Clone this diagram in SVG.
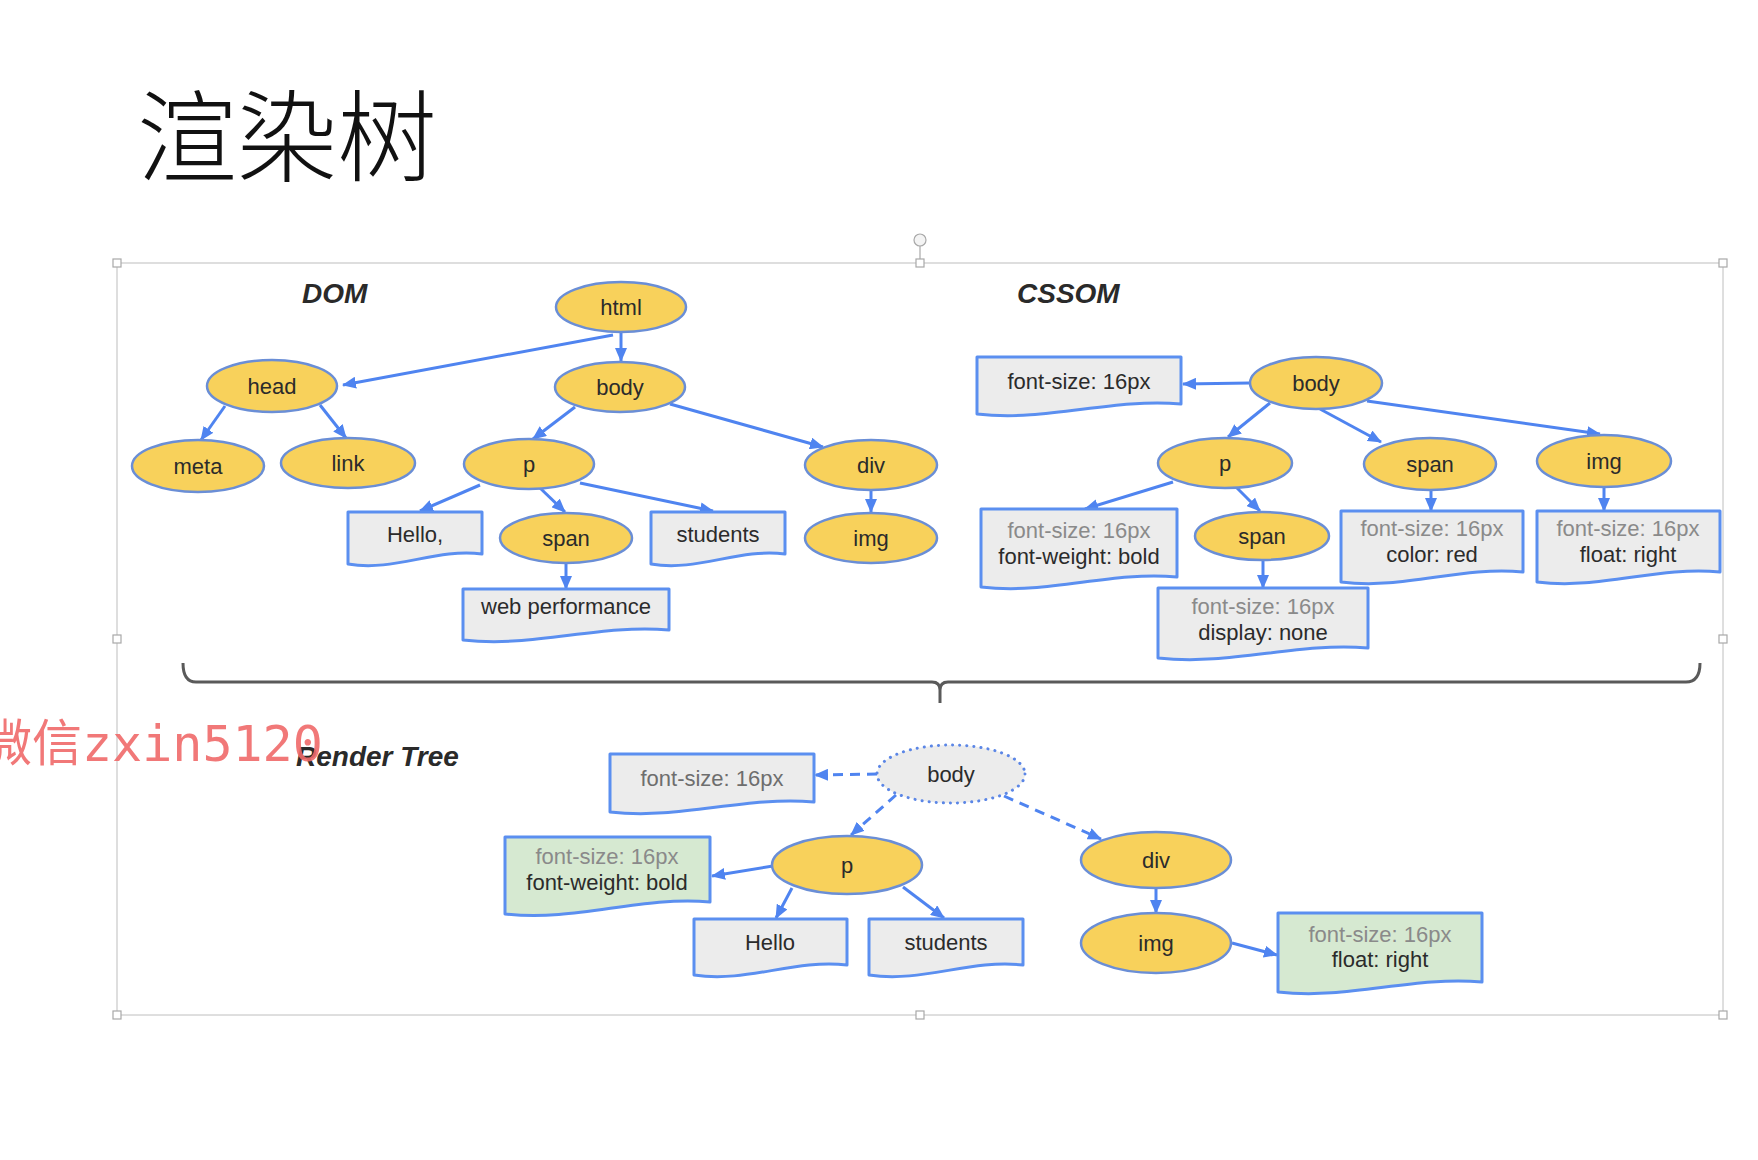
<svg xmlns="http://www.w3.org/2000/svg" width="1758" height="1160" viewBox="0 0 1758 1160">
<style>
.bg{fill:#ffffff}
.sel{fill:none;stroke:#d4d4d4;stroke-width:1.5}
.hd{fill:#ffffff;stroke:#a8a8a8;stroke-width:1.2}
.el{fill:#f8d15b;stroke:#6a8ed6;stroke-width:2.5}
.dot{fill:#ececec;stroke:#5b86e6;stroke-width:3;stroke-dasharray:0.1 7;stroke-linecap:round}
.box{fill:#ececec;stroke:#5b8ff0;stroke-width:3;stroke-linejoin:round}
.gbox{fill:#d6e9d1;stroke:#5b8ff0;stroke-width:3;stroke-linejoin:round}
.t{font-family:"Liberation Sans",Arial,sans-serif;font-size:22px;fill:#2b2b2b;text-anchor:middle}
.lt{font-family:"Liberation Sans",Arial,sans-serif;font-size:22px;fill:#8a8a8a;text-anchor:middle}
.mt{font-family:"Liberation Sans",Arial,sans-serif;font-size:22px;fill:#6e6e6e;text-anchor:middle}
.hdr{font-family:"Liberation Sans",Arial,sans-serif;font-weight:bold;font-style:italic;fill:#2a2a2a}
.c{fill:none;stroke:#4f84f0;stroke-width:3;marker-end:url(#ah)}
.cd{fill:none;stroke:#4f84f0;stroke-width:3;stroke-dasharray:10 7;marker-end:url(#ah)}
</style>
<defs>
<marker id="ah" viewBox="0 0 14 12" refX="13" refY="6" markerWidth="14" markerHeight="12" markerUnits="userSpaceOnUse" orient="auto">
<path d="M0,0 L14,6 L0,12 Z" fill="#4f84f0"/>
</marker>
</defs>
<rect class="bg" x="0" y="0" width="1758" height="1160"/>

<g id="title">
<text x="137" y="174" font-family="'Noto Sans CJK SC',sans-serif" font-size="100" font-weight="300" fill="#111">渲染树</text>
</g>

<g id="selection">
<rect class="sel" x="117" y="263" width="1606" height="752"/>
<line x1="920" y1="246" x2="920" y2="259" stroke="#a8a8a8" stroke-width="1.2"/>
<circle cx="920" cy="240" r="6" fill="#f4f4f4" stroke="#a8a8a8" stroke-width="1.2"/>
<rect class="hd" x="113" y="259" width="8" height="8"/>
<rect class="hd" x="916" y="259" width="8" height="8"/>
<rect class="hd" x="1719" y="259" width="8" height="8"/>
<rect class="hd" x="113" y="635" width="8" height="8"/>
<rect class="hd" x="1719" y="635" width="8" height="8"/>
<rect class="hd" x="113" y="1011" width="8" height="8"/>
<rect class="hd" x="916" y="1011" width="8" height="8"/>
<rect class="hd" x="1719" y="1011" width="8" height="8"/>
</g>

<g id="headers">
<text class="hdr" x="302" y="303" font-size="28">DOM</text>
<text class="hdr" x="1017" y="303" font-size="28">CSSOM</text>
<text class="hdr" x="296" y="766" font-size="28">Render Tree</text>
</g>

<g id="brace">
<path d="M183,663 Q183,682 196,682 H932 Q940,682 940,690 V703 M940,690 Q940,682 948,682 H1686 Q1700,682 1700,663" fill="none" stroke="#5a5a5a" stroke-width="3"/>
</g>

<g id="connectors">
<path class="c" d="M613,335 L343,385"/>
<path class="c" d="M621,333 L621,361"/>
<path class="c" d="M225,406 L201,440"/>
<path class="c" d="M320,405 L346,438"/>
<path class="c" d="M575,407 L533,439"/>
<path class="c" d="M670,404 L823,447"/>
<path class="c" d="M480,485 L420,511"/>
<path class="c" d="M540,488 L565,512"/>
<path class="c" d="M580,483 L713,511"/>
<path class="c" d="M871,490 L871,512"/>
<path class="c" d="M566,563 L566,589"/>
<path class="c" d="M1250,383 L1183,384"/>
<path class="c" d="M1270,403 L1228,437"/>
<path class="c" d="M1320,409 L1381,442"/>
<path class="c" d="M1367,401 L1600,434"/>
<path class="c" d="M1173,482 L1085,509"/>
<path class="c" d="M1237,488 L1260,511"/>
<path class="c" d="M1263,560 L1263,588"/>
<path class="c" d="M1431,490 L1431,511"/>
<path class="c" d="M1604,487 L1604,511"/>
<path class="cd" d="M877,774 L815,775"/>
<path class="cd" d="M896,795 L851,835"/>
<path class="cd" d="M1004,796 L1101,839"/>
<path class="c" d="M773,866 L712,876"/>
<path class="c" d="M792,888 L776,918"/>
<path class="c" d="M903,887 L944,918"/>
<path class="c" d="M1156,889 L1156,913"/>
<path class="c" d="M1232,943 L1277,955"/>
</g>

<g id="dom-html"><ellipse class="el" cx="621" cy="307" rx="65" ry="25"/><text class="t" x="621" y="315">html</text></g>
<g id="dom-body"><ellipse class="el" cx="620" cy="387" rx="65" ry="25"/><text class="t" x="620" y="395">body</text></g>
<g id="dom-head"><ellipse class="el" cx="272" cy="386" rx="65" ry="26"/><text class="t" x="272" y="394">head</text></g>
<g id="dom-meta"><ellipse class="el" cx="198" cy="466" rx="66" ry="26"/><text class="t" x="198" y="474">meta</text></g>
<g id="dom-link"><ellipse class="el" cx="348" cy="463" rx="67" ry="25"/><text class="t" x="348" y="471">link</text></g>
<g id="dom-p"><ellipse class="el" cx="529" cy="464" rx="65" ry="25"/><text class="t" x="529" y="472">p</text></g>
<g id="dom-div"><ellipse class="el" cx="871" cy="465" rx="66" ry="25"/><text class="t" x="871" y="473">div</text></g>
<g id="dom-img"><ellipse class="el" cx="871" cy="538" rx="66" ry="25"/><text class="t" x="871" y="546">img</text></g>
<g id="dom-span"><ellipse class="el" cx="566" cy="538" rx="66" ry="25"/><text class="t" x="566" y="546">span</text></g>
<g id="dom-hello"><path class="box" d="M348,512 H482 V554 C435,548 395,572 348,564 Z"/><text class="t" x="415" y="542">Hello,</text></g>
<g id="dom-students"><path class="box" d="M651,512 H785 V554 C738,548 698,572 651,564 Z"/><text class="t" x="718" y="542">students</text></g>
<g id="dom-webperf"><path class="box" d="M463,589 H669 V630 C597,624 535,648 463,640 Z"/><text class="t" x="566" y="614">web performance</text></g>

<g id="css-body"><ellipse class="el" cx="1316" cy="383" rx="66" ry="26"/><text class="t" x="1316" y="391">body</text></g>
<g id="css-p"><ellipse class="el" cx="1225" cy="463" rx="67" ry="25"/><text class="t" x="1225" y="471">p</text></g>
<g id="css-span"><ellipse class="el" cx="1430" cy="464" rx="66" ry="26"/><text class="t" x="1430" y="472">span</text></g>
<g id="css-img"><ellipse class="el" cx="1604" cy="461" rx="67" ry="26"/><text class="t" x="1604" y="469">img</text></g>
<g id="css-pspan"><ellipse class="el" cx="1262" cy="536" rx="67" ry="24"/><text class="t" x="1262" y="544">span</text></g>
<g id="css-body-style"><path class="box" d="M977,357 H1181 V404 C1110,398 1048,422 977,414 Z"/><text class="t" x="1079" y="389" fill="#444">font-size: 16px</text></g>
<g id="css-p-style"><path class="box" d="M981,509 H1177 V577 C1108,571 1050,595 981,587 Z"/><text class="lt" x="1079" y="538">font-size: 16px</text><text class="t" x="1079" y="564">font-weight: bold</text></g>
<g id="css-pspan-style"><path class="box" d="M1158,588 H1368 V648 C1295,642 1232,666 1158,658 Z"/><text class="lt" x="1263" y="614">font-size: 16px</text><text class="t" x="1263" y="640">display: none</text></g>
<g id="css-span-style"><path class="box" d="M1341,511 H1523 V572 C1459,566 1405,590 1341,582 Z"/><text class="lt" x="1432" y="536">font-size: 16px</text><text class="t" x="1432" y="562">color: red</text></g>
<g id="css-img-style"><path class="box" d="M1537,511 H1720 V572 C1656,566 1601,590 1537,582 Z"/><text class="lt" x="1628" y="536">font-size: 16px</text><text class="t" x="1628" y="562">float: right</text></g>

<g id="rt-body"><ellipse class="dot" cx="951" cy="774" rx="74" ry="29"/><text class="t" x="951" y="782">body</text></g>
<g id="rt-p"><ellipse class="el" cx="847" cy="865" rx="75" ry="29"/><text class="t" x="847" y="873">p</text></g>
<g id="rt-div"><ellipse class="el" cx="1156" cy="860" rx="75" ry="28"/><text class="t" x="1156" y="868">div</text></g>
<g id="rt-img"><ellipse class="el" cx="1156" cy="943" rx="75" ry="30"/><text class="t" x="1156" y="951">img</text></g>
<g id="rt-body-style"><path class="box" d="M610,754 H814 V802 C743,796 681,820 610,812 Z"/><text class="mt" x="712" y="786">font-size: 16px</text></g>
<g id="rt-p-style"><path class="gbox" d="M505,837 H710 V902 C638,896 577,922 505,914 Z"/><text class="lt" x="607" y="864">font-size: 16px</text><text class="t" x="607" y="890">font-weight: bold</text></g>
<g id="rt-hello"><path class="box" d="M694,919 H847 V965 C793,959 748,983 694,975 Z"/><text class="t" x="770" y="950">Hello</text></g>
<g id="rt-students"><path class="box" d="M869,919 H1023 V965 C969,959 923,983 869,975 Z"/><text class="t" x="946" y="950">students</text></g>
<g id="rt-img-style"><path class="gbox" d="M1278,913 H1482 V982 C1411,976 1349,1000 1278,992 Z"/><text class="lt" x="1380" y="942">font-size: 16px</text><text class="t" x="1380" y="967">float: right</text></g>

<g id="watermark">
<text x="-18" y="761" font-family="'DejaVu Sans Mono','Noto Sans CJK SC',monospace" font-size="50" fill="#f06a6a" opacity="0.9">微信zxin5120</text>
</g>
</svg>
